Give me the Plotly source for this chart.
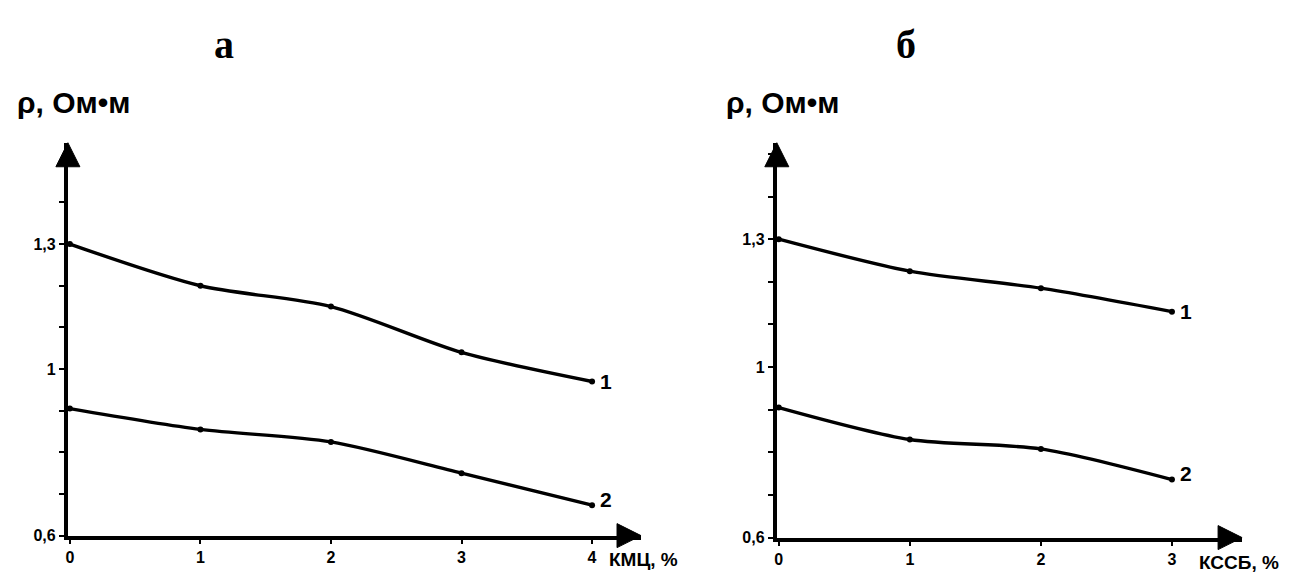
import plotly.graph_objects as go

# Resistivity vs additive concentration
x_kmc = [0, 1, 2, 3, 4]
rho_kmc_1 = [1.30, 1.20, 1.15, 1.04, 0.97]
rho_kmc_2 = [0.905, 0.855, 0.825, 0.75, 0.673]

x_kssb = [0, 1, 2, 3]
rho_kssb_1 = [1.30, 1.225, 1.185, 1.13]
rho_kssb_2 = [0.905, 0.83, 0.808, 0.736]

y_ticks = [0.6, 0.7, 0.8, 0.9, 1.0, 1.1, 1.2, 1.3, 1.4, 1.5]
y_text = ["0,6", "", "", "", "1", "", "", "1,3", "", ""]

W, H = 1302, 584
FONT = "Liberation Sans, Arial, sans-serif"
SERIF = "Liberation Serif, Times New Roman, serif"


def px_x(p):
    return p / W


def px_y(p):
    return 1 - p / H


fig = go.Figure()

line_style = dict(color="black", width=3.4, shape="spline", smoothing=0.8)
marker_style = dict(color="black", size=6)

for xs, ys, xa, ya in [
    (x_kmc, rho_kmc_1, "x", "y"),
    (x_kmc, rho_kmc_2, "x", "y"),
    (x_kssb, rho_kssb_1, "x2", "y2"),
    (x_kssb, rho_kssb_2, "x2", "y2"),
]:
    fig.add_trace(go.Scatter(
        x=xs, y=ys, mode="lines+markers", xaxis=xa, yaxis=ya,
        line=line_style, marker=marker_style, showlegend=False,
        hoverinfo="skip", cliponaxis=False,
    ))

# curve numbers at the right end of each line
for xs, ys, xr, yr, label in [
    (x_kmc, rho_kmc_1, "x", "y", "1"),
    (x_kmc, rho_kmc_2, "x", "y", "2"),
    (x_kssb, rho_kssb_1, "x2", "y2", "1"),
    (x_kssb, rho_kssb_2, "x2", "y2", "2"),
]:
    fig.add_annotation(
        x=xs[-1], y=ys[-1], xref=xr, yref=yr, text=label, showarrow=False,
        xanchor="left", yanchor="middle", xshift=6,
        yshift=0 if label == "1" else 6,
        font=dict(family=FONT, size=21, color="black", weight="bold"),
    )

axis_common = dict(
    showgrid=False, zeroline=False, showline=True, linecolor="black",
    linewidth=4, ticks="outside", tickcolor="black", tickwidth=2,
    tickfont=dict(family=FONT, size=16, color="black", weight="bold"),
)

# panel geometry
fig.update_layout(
    xaxis=dict(domain=[px_x(66), px_x(640)], range=[-0.015, 4.375],
               tickvals=x_kmc, ticktext=[str(v) for v in x_kmc], ticklen=4,
               anchor="y", **axis_common),
    yaxis=dict(domain=[px_y(544), px_y(145)], range=[0.6, 0.6 + (544 - 145) / 423],
               tickvals=y_ticks, ticktext=y_text, ticklen=5,
               anchor="x", **axis_common),
    xaxis2=dict(domain=[px_x(776), px_x(1242)], range=[-0.015, 3.535],
                tickvals=x_kssb, ticktext=[str(v) for v in x_kssb], ticklen=4,
                anchor="y2", **axis_common),
    yaxis2=dict(domain=[px_y(546), px_y(145)], range=[0.6, 0.6 + (546 - 145) / 433],
                tickvals=y_ticks, ticktext=y_text, ticklen=5,
                anchor="x2", **axis_common),
)

# arrowheads on axis ends
for xr, yr in [("x", "y"), ("x2", "y2")]:
    fig.add_shape(type="path", xref=f"{xr} domain", yref=f"{yr} domain",
                  xsizemode="pixel", ysizemode="pixel", xanchor=0, yanchor=1,
                  path="M -12,-24 L 0,0 L 12,-24 Z",
                  fillcolor="black", line=dict(color="black", width=1))
    fig.add_shape(type="path", xref=f"{xr} domain", yref=f"{yr} domain",
                  xsizemode="pixel", ysizemode="pixel", xanchor=1, yanchor=0,
                  path="M -24,-12 L 0,0 L -24,12 Z",
                  fillcolor="black", line=dict(color="black", width=1))

# axis titles
for x, y, t in [(13, 104, "ρ, Ом•м"), (723, 104, "ρ, Ом•м")]:
    fig.add_annotation(x=px_x(x), y=px_y(y), xref="paper", yref="paper", text=t,
                       showarrow=False, xanchor="left", yanchor="middle",
                       font=dict(family=FONT, size=30, color="black", weight="bold"))
for x, y, t in [(606, 568, "КМЦ, %"), (1197, 571, "КССБ, %")]:
    fig.add_annotation(x=px_x(x), y=px_y(y), xref="paper", yref="paper", text=t,
                       showarrow=False, xanchor="left", yanchor="middle",
                       font=dict(family=FONT, size=19, color="black", weight="bold"))

# panel letters
for x, t in [(222, "а"), (905, "б")]:
    fig.add_annotation(x=px_x(x), y=px_y(45), xref="paper", yref="paper", text=t,
                       showarrow=False, xanchor="center", yanchor="middle",
                       font=dict(family=SERIF, size=40, color="black", weight="bold"))

fig.update_layout(
    width=W, height=H, margin=dict(l=0, r=0, t=0, b=0),
    paper_bgcolor="white", plot_bgcolor="white",
)

fig.write_html("out.html")
